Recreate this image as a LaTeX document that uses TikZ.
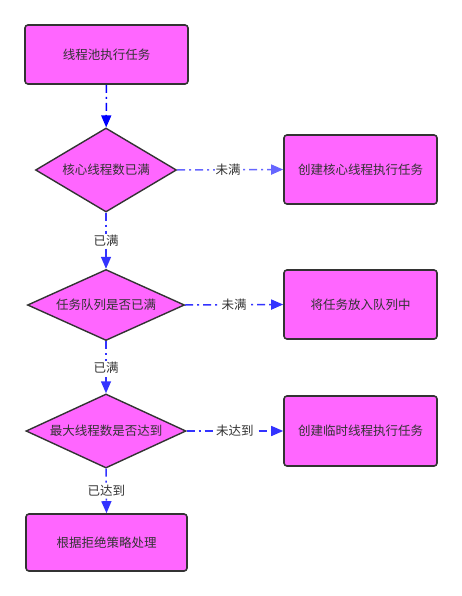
\documentclass[tikz,border=0pt]{standalone}
\usepackage{fontspec}
\setmainfont{Noto Sans CJK SC}
\usetikzlibrary{shapes.geometric}
\usetikzlibrary{arrows.meta}
\definecolor{boxfill}{HTML}{FF66FF}
\definecolor{boxline}{HTML}{333333}
\definecolor{linkblue}{HTML}{3333FF}
\definecolor{linkpure}{HTML}{0000FF}
\definecolor{linklight}{HTML}{6666FF}
\tikzset{
  task/.style={shape=rectangle, draw=boxline, fill=boxfill, line width=1.6pt,
    rounded corners=3pt, text=boxline, font=\fontsize{12.5}{14}\selectfont},
  check/.style={shape=diamond, draw=boxline, fill=boxfill, line width=1.4pt,
    inner sep=0pt, aspect=1.8, text=boxline, font=\fontsize{12.5}{14}\selectfont},
  link/.style={draw=linkblue, line width=1.5pt,
    dash pattern=on 8pt off 4pt on 2pt off 4pt,
    -{Triangle[width=10pt,length=12pt]}},
  tag/.style={fill=white, inner sep=1pt, text=boxline,
    font=\fontsize{12.5}{14}\selectfont}
}
\begin{document}
\begin{tikzpicture}[x=1pt, y=-1pt]
\useasboundingbox (0,0) rectangle (462,596);
% Boxes on the main path
\node [task, minimum width=163pt, minimum height=59pt] (start) at (106.5,54.5) {线程池执行任务};
\node [check, minimum width=141pt, minimum height=84pt] (core) at (106,170) {核心线程数已满};
\node [check, minimum width=157pt, minimum height=71pt] (queue) at (106,305) {任务队列是否已满};
\node [check, minimum width=160pt, minimum height=69pt] (max) at (106,431) {最大线程数是否达到};
\node [task, minimum width=161pt, minimum height=57pt] (reject) at (106.5,542.5) {根据拒绝策略处理};
% Boxes on the right
\node [task, minimum width=153pt, minimum height=69pt] (newcore) at (360.5,169.5) {创建核心线程执行任务};
\node [task, minimum width=153pt, minimum height=69pt] (enqueue) at (360.5,304.5) {将任务放入队列中};
\node [task, minimum width=153pt, minimum height=70pt] (newtemp) at (360.5,431) {创建临时线程执行任务};
% Connectors
\draw [link, draw=linkpure] (start) -- (core);
\draw [link, draw=linklight] (core.east) -- node [tag, pos=0.48] {未满} (newcore.west);
\draw [link] (core.south) -- node [tag, pos=0.5] {已满} (queue.north);
\draw [link] (queue.east) -- node [tag, pos=0.5] {未满} (enqueue.west);
\draw [link] (queue.south) -- node [tag, pos=0.5] {已满} (max.north);
\draw [link] (max.east) -- node [tag, pos=0.5] {未达到} (newtemp.west);
\draw [link] (max.south) -- node [tag, pos=0.5] {已达到} (reject.north);
\end{tikzpicture}
\end{document}
